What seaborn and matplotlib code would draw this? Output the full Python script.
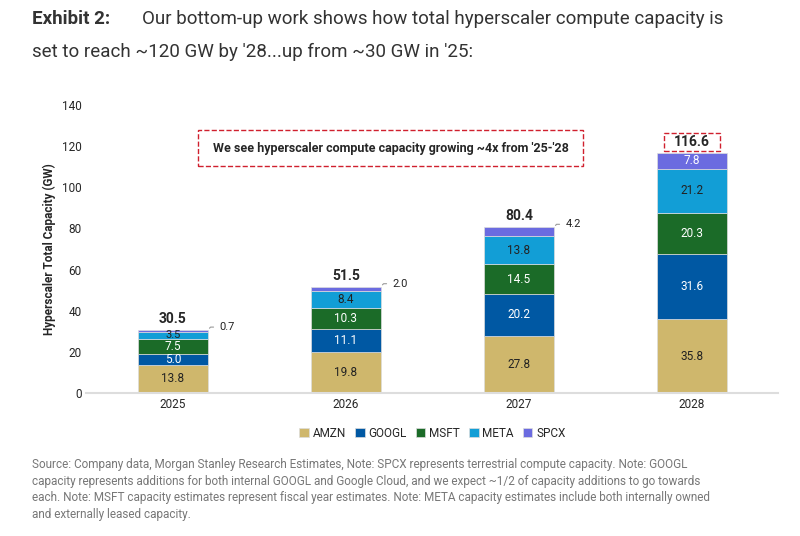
import numpy as np
import pandas as pd
import seaborn as sns
import matplotlib.pyplot as plt
from matplotlib.patches import Rectangle

sns.set_style("white")
plt.rcParams['font.family'] = ['Liberation Sans Narrow', 'Roboto', 'DejaVu Sans']

years = ['2025', '2026', '2027', '2028']
series = ['AMZN', 'GOOGL', 'MSFT', 'META', 'SPCX']
amzn = [13.8, 19.8, 27.8, 35.8]
googl = [5.0, 11.1, 20.2, 31.6]
msft = [7.5, 10.3, 14.5, 20.3]
meta = [3.5, 8.4, 13.8, 21.2]
spcx = [0.7, 2.0, 4.2, 7.8]
totals = [30.5, 51.5, 80.4, 116.6]

colors = ['#CFB76C', '#0058A3', '#1B6B28', '#129ED6', '#6B6BE0']
txt_colors = ['#222222', 'white', 'white', '#222222', 'white']

fig = plt.figure(figsize=(8, 5.36), dpi=100)
ax = fig.add_axes([0.108, 0.267, 0.865, 0.537])

vals = [amzn, googl, msft, meta, spcx]
bottom = np.zeros(4)
for name, v, c, tc in zip(series, vals, colors, txt_colors):
    df = pd.DataFrame({'year': years, 'value': v})
    sns.barplot(data=df, x='year', y='value', color=c, bottom=bottom, width=0.4,
                ax=ax, label=name, edgecolor='#dddddd', linewidth=0.5, saturation=1)
    for i, val in enumerate(v):
        if name == 'SPCX' and val < 5:
            ax.annotate(f'{val:.1f}', xy=(i + 0.2, bottom[i] + val), xytext=(i + 0.27, bottom[i] + val + 1.5),
                        fontsize=8, va='center', color='#222222',
                        arrowprops=dict(arrowstyle='-', color='#999999', lw=0.8,
                                        connectionstyle='angle,angleA=0,angleB=45'))
        else:
            fs = 8 if val < 4 else 8.5
            ax.text(i, bottom[i] + val / 2, f'{val:.1f}', ha='center', va='center',
                    fontsize=fs, color=tc)
    bottom = bottom + np.array(v)

for i, t in enumerate(totals):
    ax.text(i, t + 2, f'{t:.1f}', ha='center', va='bottom', fontsize=10, fontweight='bold')
ax.add_patch(Rectangle((2.84, 117.8), 0.32, 8.5, fill=False, ls='--', ec='#D0202E', lw=1))
ax.add_patch(Rectangle((0.145, 110.4), 2.225, 17.5, fill=False, ls='--', ec='#D0202E', lw=1))
ax.text(1.26, 118.8, "We see hyperscaler compute capacity growing ~4x from '25-'28",
        ha='center', va='center', fontsize=9, fontweight='bold')

ax.set_xlim(-0.5, 3.5)
ax.set_ylim(0, 140)
ax.set_yticks(range(0, 141, 20))
ax.set_xlabel('')
ax.set_ylabel('Hyperscaler Total Capacity (GW)', fontsize=8.5, fontweight='bold')
ax.tick_params(labelsize=8.5, length=0)
sns.despine(ax=ax, left=True)
ax.spines['bottom'].set_color('#dddddd')
ax.spines['bottom'].set_linewidth(1.5)

ax.legend(loc='upper center', bbox_to_anchor=(0.5, -0.08), ncol=5, frameon=False,
          fontsize=8.5, handlelength=0.8, handleheight=0.8, columnspacing=0.8, handletextpad=0.3)

fig.text(0.04, 0.955, 'Exhibit 2:', fontsize=13.5, fontweight='bold', color='#333333', family='Roboto')
fig.text(0.178, 0.955, 'Our bottom-up work shows how total hyperscaler compute capacity is',
         fontsize=13.5, color='#333333', family='Roboto')
fig.text(0.04, 0.893, "set to reach ~120 GW by '28...up from ~30 GW in '25:",
         fontsize=13.5, color='#333333', family='Roboto')

note = ("Source: Company data, Morgan Stanley Research Estimates, Note: SPCX represents terrestrial compute capacity. Note: GOOGL\n"
        "capacity represents additions for both internal GOOGL and Google Cloud, and we expect ~1/2 of capacity additions to go towards\n"
        "each. Note: MSFT capacity estimates represent fiscal year estimates. Note: META capacity estimates include both internally owned\n"
        "and externally leased capacity.")
fig.text(0.04, 0.145, note, fontsize=8.5, color='#777777', va='top', family='Roboto', linespacing=1.35)

fig.savefig('out.png', dpi=100)
